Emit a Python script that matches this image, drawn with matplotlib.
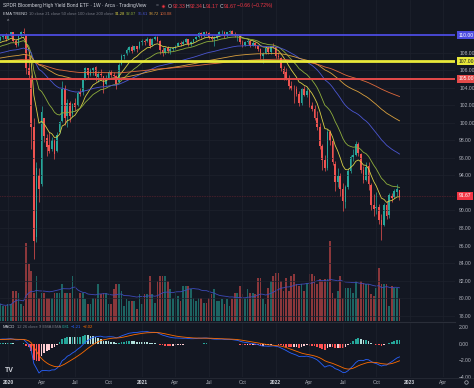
import matplotlib
matplotlib.use("Agg")
import matplotlib.pyplot as plt
import matplotlib.dates as mdates
import matplotlib.transforms as mtransforms
from matplotlib.lines import Line2D
import numpy as np
import pandas as pd

plt.rcParams['font.family'] = ['Liberation Sans', 'DejaVu Sans']

# ---- weekly OHLC, first bar = week of 2019-12-16 ----
opens = [
    109.4, 109.8, 109.9,
    109.6, 110.0, 110.3, 109.3,  108.9, 109.9, 110.3, 110.0,
    106.2, 105.0, 99.5, 87.0, 94.0,  93.0, 100.5, 98.3, 97.5,
    97.0, 98.0, 96.8, 99.0,  100.2, 104.0, 100.8, 102.2, 101.0,
    102.3, 102.0, 103.5, 103.5,  105.0, 106.2, 105.5, 106.0, 106.4,
    105.2, 105.6, 105.3, 104.4,  105.1, 105.8, 105.5, 105.3,
    104.6, 106.7, 107.6, 107.8, 108.3,  108.6, 108.3, 108.7, 108.5,
    109.2, 109.3, 109.3, 109.6,  108.9, 109.5, 109.8, 109.3,
    108.3, 108.0, 108.5, 108.2, 108.4,  108.5, 108.8, 109.1, 109.0,
    109.2, 109.5, 109.0, 109.2, 109.5,  109.8, 110.2, 109.9, 110.3,
    110.2, 109.8, 109.5, 109.7,  110.0, 110.3, 110.4, 109.9, 110.3,
    110.5, 110.1, 109.9, 109.9,  109.2, 108.9, 109.2, 109.3,
    108.8, 109.1, 108.7, 108.4, 107.6,  107.9, 108.5, 108.1, 108.7,
    108.6, 107.6, 107.4, 106.1, 105.8,  105.1, 104.2, 103.9, 103.8,
    103.3, 102.2, 103.8, 103.2,  103.6, 102.0, 101.6, 100.5,
    99.5, 97.4, 95.8, 94.8, 99.0,  97.9, 95.3, 93.2, 93.9,
    92.4, 91.0, 92.7, 94.5,  96.1, 96.3, 97.6, 96.4, 94.6,
    93.5, 95.1, 92.9, 90.6,  90.3, 90.4, 88.9, 88.3, 90.6,
    89.5, 91.7, 91.5, 92.1,  92.33,
]
highs = [
    109.9, 110.0, 110.2,
    110.1, 110.4, 110.4, 109.5,  110.0, 110.5, 110.8, 110.1,
    107.6, 105.5, 100.5, 95.5, 94.8,  101.9, 100.6, 98.7, 99.0,
    98.4, 98.2, 98.9, 100.2,  104.8, 104.3, 102.7, 102.5, 102.3,
    102.8, 103.6, 104.0, 105.0,  106.4, 106.3, 106.2, 106.4, 106.5,
    105.9, 106.1, 105.3, 105.4,  106.0, 106.0, 105.8, 105.4,
    106.8, 107.9, 107.9, 108.5, 108.7,  108.9, 108.8, 108.8, 109.3,
    109.6, 109.5, 109.8, 109.7,  109.7, 109.9, 109.9, 109.4,
    108.6, 108.6, 108.7, 108.6, 108.6,  108.9, 109.2, 109.3, 109.4,
    109.7, 109.6, 109.3, 109.6, 109.9,  110.3, 110.4, 110.4, 110.5,
    110.3, 110.0, 109.9, 110.1,  110.5, 110.6, 110.5, 110.4, 110.6,
    110.6, 110.3, 110.1, 110.0,  109.4, 109.3, 109.5, 109.4,
    109.4, 109.2, 108.9, 108.5, 108.1,  108.7, 108.7, 108.8, 109.1,
    108.7, 108.1, 107.5, 106.5, 106.2,  105.4, 104.8, 104.3, 104.2,
    103.6, 104.0, 104.2, 104.0,  103.7, 102.4, 102.0, 101.4,
    100.0, 97.6, 96.3, 99.3, 99.2,  98.2, 95.6, 94.9, 94.3,
    93.1, 92.9, 94.8, 96.3,  97.0, 97.9, 97.8, 96.6, 95.1,
    95.5, 95.5, 93.1, 91.9,  92.1, 90.7, 89.6, 90.8, 91.1,
    92.0, 92.0, 92.4, 93.0,  92.34,
]
lows = [
    109.3, 109.6, 109.3,
    109.5, 109.8, 109.2, 108.6,  108.8, 109.8, 110.0, 105.6,
    105.0, 97.0, 84.5, 86.4, 91.0,  92.8, 97.8, 96.2, 96.5,
    96.8, 95.9, 96.7, 98.8,  100.1, 99.8, 99.5, 100.1, 100.7,
    101.4, 101.9, 103.0, 103.2,  104.9, 105.1, 105.3, 105.5, 104.8,
    104.6, 105.2, 103.4, 104.3,  105.0, 105.2, 105.1, 103.9,
    104.5, 106.6, 107.3, 107.7, 108.1,  108.0, 108.2, 108.1, 108.4,
    108.9, 108.9, 109.2, 108.5,  108.8, 109.4, 109.2, 107.9,
    107.6, 107.8, 108.0, 107.9, 108.2,  108.4, 108.7, 108.8, 108.9,
    109.1, 108.7, 108.8, 109.1, 109.4,  109.7, 109.7, 109.8, 110.0,
    109.5, 109.3, 108.8, 109.6,  109.9, 110.1, 109.7, 109.8, 110.2,
    110.0, 109.8, 109.3, 109.0,  108.6, 108.7, 109.0, 108.6,
    108.7, 108.5, 108.2, 107.3, 106.8,  107.8, 107.9, 107.9, 108.5,
    107.4, 107.3, 105.9, 104.9, 104.9,  103.9, 103.7, 102.2, 103.0,
    101.9, 102.0, 103.0, 102.9,  101.8, 101.4, 100.3, 99.2,
    97.0, 94.6, 94.5, 94.6, 97.5,  95.2, 92.2, 92.7, 91.6,
    89.9, 90.3, 92.5, 94.3,  95.6, 96.2, 96.2, 94.3, 93.1,
    93.4, 92.3, 90.1, 89.4,  89.6, 88.5, 86.6, 88.2, 89.0,
    89.2, 91.0, 91.4, 91.6,  91.17,
]
closes = [
    109.8, 109.9, 109.6,
    110.0, 110.3, 109.3, 108.9,  109.9, 110.3, 110.2, 106.2,
    105.4, 99.5, 86.5, 94.8, 92.5,  101.2, 98.5, 97.2, 96.8,
    98.0, 96.4, 98.6, 100.1,  103.9, 100.5, 102.3, 100.8, 102.1,
    101.8, 103.4, 103.3, 104.9,  106.2, 105.4, 106.0, 106.2, 105.3,
    105.6, 105.5, 104.2, 105.1,  105.8, 105.5, 105.3, 104.4,
    106.6, 107.6, 107.7, 108.3, 108.6,  108.2, 108.7, 108.4, 109.2,
    109.3, 109.2, 109.6, 108.7,  109.5, 109.8, 109.3, 108.3,
    108.0, 108.5, 108.2, 108.4, 108.5,  108.8, 109.1, 109.0, 109.2,
    109.5, 109.0, 109.2, 109.5, 109.8,  110.2, 109.9, 110.3, 110.2,
    109.8, 109.5, 109.7, 110.0,  110.3, 110.4, 109.9, 110.3, 110.5,
    110.1, 109.9, 109.9, 109.2,  108.9, 109.2, 109.3, 108.8,
    109.1, 108.7, 108.4, 107.6, 107.9,  108.5, 108.1, 108.7, 108.6,
    107.6, 107.5, 106.2, 105.6, 105.0,  104.2, 103.9, 103.8, 103.3,
    102.2, 103.8, 103.2, 103.6,  102.0, 101.6, 100.5, 99.5,
    97.4, 95.8, 94.8, 99.0, 97.9,  95.5, 93.2, 93.9, 92.4,
    91.1, 92.7, 94.5, 96.1,  96.3, 97.6, 96.5, 94.6, 93.5,
    95.0, 93.0, 90.6, 90.2,  90.4, 88.9, 88.4, 90.6, 89.4,
    91.8, 91.4, 92.2, 92.5,  91.67,
]
# closes of the 26 weeks before the first drawn bar (only used to warm up the averages)
warmup_closes = [
    106.5, 107.2, 107.8, 108.3, 108.6, 108.9, 108.7, 108.2, 107.6, 107.9,
    108.4, 108.6, 108.5, 108.7, 108.3, 108.4, 108.8, 108.9, 109.1, 108.9,
    108.6, 108.8, 109.0, 109.2, 109.3, 109.4,
]
# weekly volume, millions of shares
volumes = [
    17, 15, 15, 17, 17, 30, 30, 28, 17, 15,
    78, 57, 50, 28, 45, 23, 28, 28, 23, 23,
    23, 28, 28, 28, 37, 28, 28, 28, 45, 23,
    23, 28, 28, 22, 17, 17, 23, 23, 37, 27,
    28, 28, 17, 17, 32, 37, 37, 30, 15, 22,
    20, 20, 20, 12, 27, 17, 27, 27, 45, 27,
    18, 40, 45, 45, 45, 40, 32, 23, 30, 25,
    20, 35, 35, 35, 32, 23, 20, 23, 23, 18,
    18, 23, 27, 32, 20, 20, 22, 17, 22, 15,
    22, 28, 28, 35, 27, 23, 32, 28, 28, 27,
    43, 43, 22, 17, 33, 40, 45, 48, 48, 40,
    30, 43, 30, 45, 47, 37, 35, 37, 30, 38,
    47, 47, 45, 37, 42, 40, 42, 42, 80, 28,
    23, 30, 45, 23, 33, 33, 33, 28, 40, 23,
    40, 38, 37, 37, 27, 25, 33, 53, 37, 37,
    37, 15, 35, 33, 33, 23,
]

first_week = '2019-12-16'
ema_spans = [10, 21, 50, 100, 200]
ema_values_txt = ['91.28', '92.07', '95.61', '98.72', '103.08']
levels = [110.0, 107.0, 105.0]
last_price = 91.67
price_ticks = [78, 80, 82, 84, 86, 88, 90, 94, 96, 98, 100, 102, 104, 106, 108]
macd_ticks = [2, 0, -2, -4]
macd_tick_labels = ['2.00', '0.00', '\u22122.00', '\u22124.00']
tick_dates = ['2020-01-06', '2020-04-06', '2020-07-06', '2020-10-05',
              '2021-01-04', '2021-04-05', '2021-07-05', '2021-10-04',
              '2022-01-03', '2022-04-04', '2022-07-04', '2022-10-03',
              '2023-01-02', '2023-04-03']
tick_labels = ['2020', 'Apr', 'Jul', 'Oct', '2021', 'Apr', 'Jul', 'Oct',
               '2022', 'Apr', 'Jul', 'Oct', '2023', 'Apr']

# colours
BG = '#131722'
GRID = '#1e222d'
TXT = '#b2b5be'
UP = '#26a69a'
DN = '#ef5350'
RED = '#f23645'
ema_colors = ['#d9cf45', '#8fae3c', '#4b56d2', '#d9a03e', '#e06a3c']
level_colors = ['#4c4ce0', '#e8e83a', '#e44a4a']
level_widths = [1.3, 2.0, 1.4]

W, H = 474, 388


def rect(x0, y0, x1, y1):
    return [x0 / W, 1 - y1 / H, (x1 - x0) / W, (y1 - y0) / H]


o = np.array(opens)
h = np.array(highs)
l = np.array(lows)
c = np.array(closes)
v = np.array(volumes)
dates = pd.date_range(first_week, periods=len(c), freq='W-MON')
x = mdates.date2num(dates)
up = c >= o
col = np.where(up, UP, DN)
n_warm = len(warmup_closes)
s_all = pd.Series(warmup_closes + closes)

fig = plt.figure(figsize=(W / 100, H / 100), dpi=100, facecolor=BG)

# volume underlay
axv = fig.add_axes(rect(0, 0, 455, 321))
axv.set_facecolor(BG)
axv.bar(x, v, width=4.6, color=col, alpha=0.55, lw=0)
vol_ma = pd.Series(v).rolling(20, min_periods=1).mean()
axv.plot(x, vol_ma, color='#3d4ab8', lw=0.6)
axv.set_ylim(0, v.max() * 321 / 80)
axv.axis('off')

# price pane
ax = fig.add_axes(rect(0, 0, 455, 321), sharex=axv)
ax.set_facecolor('none')
ax.vlines(x, l, h, colors=col, lw=0.5)
ax.bar(x, np.maximum(np.abs(c - o), 0.06), bottom=np.minimum(o, c),
       width=4.6, color=col, lw=0)

for span, ec in zip(ema_spans, ema_colors):
    ema = s_all.ewm(span=span, adjust=False).mean().values[n_warm:]
    ax.plot(x, ema, color=ec, lw=0.6)

blend = mtransforms.blended_transform_factory(ax.transAxes, ax.transData)
for lev, lc, lw in zip(levels, level_colors, level_widths):
    ax.axhline(lev, color=lc, lw=lw, zorder=3)
    ax.text(1.008, lev, f'{lev:.2f}', transform=blend, ha='left', va='center',
            fontsize=3.6, color=BG if lc == '#e8e83a' else 'white',
            bbox=dict(boxstyle='square,pad=0.3', fc=lc, ec='none'), clip_on=False)

ax.axhline(last_price, color=RED, lw=0.4, ls=(0, (1, 2)), alpha=0.7)
ax.text(1.008, last_price, f'{last_price:.2f}', transform=blend, ha='left', va='center',
        fontsize=3.6, color='white',
        bbox=dict(boxstyle='square,pad=0.3', fc=RED, ec='none'), clip_on=False)

ax.set_ylim(77.4, 114.0)
ax.set_yticks(price_ticks)
ax.yaxis.set_major_formatter(matplotlib.ticker.FormatStrFormatter('%.2f'))
ax.yaxis.tick_right()
ax.tick_params(axis='y', length=0, pad=3, labelsize=3.6, labelcolor=TXT)
ax.tick_params(axis='x', length=0, labelbottom=False)
ax.grid(True, color=GRID, lw=0.5)
for sp in ax.spines.values():
    sp.set_visible(False)

# MACD pane
axm = fig.add_axes(rect(0, 322, 455, 377), sharex=axv)
axm.set_facecolor(BG)
ema12 = s_all.ewm(span=12, adjust=False).mean()
ema26 = s_all.ewm(span=26, adjust=False).mean()
macd_all = ema12 - ema26
signal_all = macd_all.ewm(span=9, adjust=False).mean()
macd = macd_all.values[n_warm:]
signal = signal_all.values[n_warm:]
hist_all = (macd_all - signal_all).values
hist = hist_all[n_warm:]
prev = hist_all[n_warm - 1:-1]
hcol = np.where(hist >= 0, np.where(hist >= prev, '#26a69a', '#b2dfdb'),
                np.where(hist < prev, '#ff5252', '#ffcdd2'))
axm.bar(x, hist, width=4.6, color=hcol, lw=0)
axm.plot(x, macd, color='#2962ff', lw=0.6)
axm.plot(x, signal, color='#ff6d00', lw=0.6)
axm.set_ylim(-4.05, 2.6)
axm.set_yticks(macd_ticks)
axm.set_yticklabels(macd_tick_labels)
axm.yaxis.tick_right()
axm.tick_params(axis='y', length=0, pad=3, labelsize=3.6, labelcolor=TXT)
axm.set_xticks(mdates.date2num(pd.to_datetime(tick_dates)))
axm.set_xticklabels(tick_labels)
axm.tick_params(axis='x', length=0, pad=2.5, labelsize=3.6, labelcolor=TXT)
for t in axm.get_xticklabels():
    if t.get_text().isdigit():
        t.set_fontweight('bold')
        t.set_color('#d1d4dc')
axm.grid(True, axis='x', color=GRID, lw=0.5)
for sp in axm.spines.values():
    sp.set_visible(False)

x0 = mdates.date2num(pd.Timestamp(first_week)) - 1
axv.set_xlim(x0, x0 + 455 * 7 / 2.575)

fig.add_artist(Line2D([0, 455 / W], [1 - 321.5 / H] * 2, color='#2a2e39', lw=0.8))
fig.add_artist(Line2D([0, 1], [1 - 377.5 / H] * 2, color='#2a2e39', lw=0.5))

# legends
renderer = fig.canvas.get_renderer()


def draw_segments(px, py, segments, size, gap=1.4):
    for txt, tc in segments:
        t = fig.text(px / W, 1 - py / H, txt, color=tc, fontsize=size,
                     ha='left', va='center')
        px += t.get_window_extent(renderer=renderer).width + gap
    return px


draw_segments(3, 6, [('SPDR Bloomberg High Yield Bond ETF \u00b7 1W \u00b7 Arca \u00b7 TradingView', '#d1d4dc')], 3.55)
fig.text(157 / W, 1 - 6 / H, '=', color='#787b86', fontsize=3.6, ha='center', va='center')
fig.add_artist(Line2D([163 / W], [1 - 6 / H], marker='o', ms=2.2, mfc=RED,
                      mec='#5a1e26', mew=0.6, transform=fig.transFigure))
draw_segments(168, 6, [('O', '#d1d4dc'), ('92.33', RED), ('H', '#d1d4dc'), ('92.34', RED),
                       ('L', '#d1d4dc'), ('91.17', RED), ('C', '#d1d4dc'), ('91.67', RED),
                       ('\u22120.66 (\u22120.72%)', RED)], 3.7, gap=0.4)

segs = [('EMA TREND', '#d1d4dc'), ('10 close 21 close 50 close 100 close 200 close', '#787b86')]
segs += list(zip(ema_values_txt, ema_colors))
draw_segments(3, 14, segs, 3.0, gap=1.2)
fig.text(8 / W, 1 - 21.5 / H, '^', color=TXT, fontsize=3.5, ha='center', va='center')

draw_segments(3, 327, [('MACD', '#d1d4dc'), ('12 26 close 9 EMA EMA', '#787b86'),
                       ('0.81', '#26a69a'), ('\u22121.21', '#2962ff'), ('\u22122.02', '#ff6d00')],
              3.0, gap=1.2)

fig.text(9 / W, 1 - 371 / H, 'TV', color='#d1d4dc', fontsize=5, fontweight='bold',
         ha='center', va='center')
fig.add_artist(Line2D([466 / W], [1 - 382 / H], marker='o', ms=2.5, mfc='none',
                      mec=TXT, mew=0.5, transform=fig.transFigure))

fig.savefig('out.png', dpi=100, facecolor=BG)
